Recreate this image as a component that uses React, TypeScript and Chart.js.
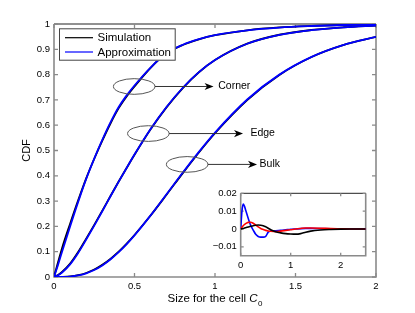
import React, { useEffect, useRef } from 'react';
import { Chart, registerables } from 'chart.js';

Chart.register(...registerables);

// ---------- data ----------
const sizeX = [0, 0.025, 0.05, 0.1, 0.15, 0.2, 0.25, 0.3, 0.35, 0.4, 0.45, 0.5, 0.6, 0.7, 0.8, 0.9, 1.0, 1.2, 1.4, 1.6, 1.8, 2.0];
const cornerApprox = [0, 0.048, 0.1, 0.2, 0.297, 0.388, 0.468, 0.542, 0.61, 0.67, 0.717, 0.757, 0.828, 0.885, 0.918, 0.94, 0.956, 0.975, 0.986, 0.992, 0.996, 0.998];
const cornerSim = [0, 0.058, 0.114, 0.2105, 0.303, 0.39, 0.4674, 0.539, 0.6058, 0.6654, 0.7124, 0.7528, 0.8268, 0.884, 0.9171, 0.9394, 0.9557, 0.9752, 0.9863, 0.9922, 0.9961, 0.998];
const edgeApprox = [0, 0.007, 0.018, 0.05, 0.095, 0.148, 0.203, 0.26, 0.318, 0.375, 0.43, 0.484, 0.585, 0.673, 0.748, 0.81, 0.858, 0.922, 0.957, 0.976, 0.987, 0.994];
const edgeSim = [0, 0.008, 0.0198, 0.053, 0.0987, 0.1518, 0.2062, 0.2622, 0.3192, 0.3753, 0.4297, 0.4832, 0.5837, 0.6715, 0.7468, 0.8092, 0.8576, 0.9223, 0.9575, 0.9764, 0.9872, 0.9941];
const bulkApprox = [0, 0, 0.0002, 0.0017, 0.006, 0.0144, 0.0276, 0.0459, 0.0692, 0.0971, 0.1292, 0.1648, 0.2435, 0.3278, 0.4128, 0.4948, 0.571, 0.7017, 0.7999, 0.8701, 0.9176, 0.9494];
const bulkSim = [0, 0.0001, 0.0005, 0.0024, 0.0071, 0.0159, 0.0294, 0.048, 0.0714, 0.0992, 0.131, 0.166, 0.2431, 0.3262, 0.4106, 0.4922, 0.5682, 0.6991, 0.7987, 0.8695, 0.9173, 0.9493];

const xTicks = [0, 0.5, 1, 1.5, 2];
const yTicks = [0, 0.1, 0.2, 0.3, 0.4, 0.5, 0.6, 0.7, 0.8, 0.9, 1];

const insetX = [0, 0.025, 0.05, 0.075, 0.1, 0.15, 0.2, 0.25, 0.3, 0.35, 0.4, 0.45, 0.5, 0.55, 0.6, 0.7, 0.8, 0.9, 1.0, 1.1, 1.2, 1.3, 1.4, 1.6, 1.8, 2.0, 2.2, 2.5];
const errCorner = [0, 0.01, 0.014, 0.0128, 0.0105, 0.006, 0.002, -0.0006, -0.003, -0.0042, -0.0046, -0.0046, -0.0042, -0.0018, -0.0012, -0.001, -0.0008, -0.0005, -0.0002, 0, 0.0002, 0.0003, 0.0003, 0.0002, 0.0001, 0, 0, 0];
const errEdge = [0, 0.001, 0.0018, 0.0025, 0.003, 0.0037, 0.0038, 0.0032, 0.0022, 0.0012, 0.0003, -0.0003, -0.0008, -0.0011, -0.0013, -0.0015, -0.0012, -0.0008, -0.0004, 0, 0.0003, 0.0005, 0.0005, 0.0004, 0.0002, 0.0001, 0, 0];
const errBulk = [0, 0.0001, 0.0003, 0.0005, 0.0007, 0.0011, 0.0015, 0.0018, 0.0021, 0.0022, 0.0021, 0.0018, 0.0012, 0.0004, -0.0004, -0.0016, -0.0022, -0.0026, -0.0028, -0.0029, -0.0026, -0.0018, -0.0012, -0.0006, -0.0003, -0.0001, 0, 0];
const insetXTicks = [0, 1, 2];
const insetYTicks = [-0.01, 0, 0.01, 0.02];

const legendLabels = ['Simulation', 'Approximation'];
const xTitle = 'Size for the cell ';
const xTitleVar = 'C';
const xTitleSub = '0';
const yTitle = 'CDF';

// annotation layout (data coordinates)
const annotations = [
  { label: 'Corner', cx: 0.498, cy: 0.753, tip: 0.991, text: 1.02 },
  { label: 'Edge', cx: 0.586, cy: 0.567, tip: 1.174, text: 1.22 },
  { label: 'Bulk', cx: 0.827, cy: 0.445, tip: 1.261, text: 1.277 },
];

const FONT = '"Liberation Sans", Arial, Helvetica, sans-serif';
const BLUE = '#0000ff';

const pts = (xs: number[], ys: number[]) => xs.map((x, i) => ({ x, y: ys[i] }));
const fmt = (v: any) => String(Number(v)).replace('-', '\u2212');

function drawFrame(chart: any, xt: number[], yt: number[], len: number) {
  const { ctx, chartArea, scales } = chart;
  const { left, right, top, bottom } = chartArea;
  ctx.save();
  ctx.strokeStyle = '#8a8a8a';
  ctx.lineWidth = 1.6;
  ctx.beginPath();
  ctx.moveTo(left, top);
  ctx.lineTo(left, bottom);
  ctx.lineTo(right, bottom);
  ctx.lineTo(right, top);
  ctx.stroke();
  ctx.strokeStyle = '#222';
  ctx.lineWidth = 1;
  ctx.beginPath();
  ctx.moveTo(left, top);
  ctx.lineTo(right, top);
  ctx.stroke();
  ctx.strokeStyle = '#8a8a8a';
  ctx.lineWidth = 1.3;
  ctx.beginPath();
  for (const v of xt) {
    const p = scales.x.getPixelForValue(v);
    ctx.moveTo(p, bottom); ctx.lineTo(p, bottom - len);
    ctx.moveTo(p, top); ctx.lineTo(p, top + len);
  }
  for (const v of yt) {
    const p = scales.y.getPixelForValue(v);
    ctx.moveTo(left, p); ctx.lineTo(left + len, p);
    ctx.moveTo(right, p); ctx.lineTo(right - len, p);
  }
  ctx.stroke();
  ctx.restore();
}

const mainPlugin = {
  id: 'mainDecor',
  beforeDatasetsDraw(chart: any) {
    drawFrame(chart, xTicks, yTicks, 4);
  },
  afterDraw(chart: any) {
    const { ctx, chartArea, scales } = chart;
    const xs = scales.x, ys = scales.y;
    ctx.save();
    // annotations: ellipses, arrows, labels
    const rxPx = xs.getPixelForValue(0.129) - xs.getPixelForValue(0);
    const ryPx = ys.getPixelForValue(0) - ys.getPixelForValue(0.031);
    for (const a of annotations) {
      const cx = xs.getPixelForValue(a.cx);
      const cy = ys.getPixelForValue(a.cy);
      ctx.strokeStyle = '#555';
      ctx.lineWidth = 1;
      ctx.beginPath();
      ctx.ellipse(cx, cy, rxPx, ryPx, 0, 0, Math.PI * 2);
      ctx.stroke();
      const x1 = xs.getPixelForValue(a.tip);
      ctx.strokeStyle = '#333';
      ctx.beginPath();
      ctx.moveTo(cx + rxPx, cy);
      ctx.lineTo(x1 - 6, cy);
      ctx.stroke();
      ctx.fillStyle = '#000';
      ctx.beginPath();
      ctx.moveTo(x1, cy);
      ctx.lineTo(x1 - 9, cy - 3.6);
      ctx.lineTo(x1 - 6.5, cy);
      ctx.lineTo(x1 - 9, cy + 3.6);
      ctx.closePath();
      ctx.fill();
      ctx.font = `10.5px ${FONT}`;
      ctx.textBaseline = 'middle';
      ctx.textAlign = 'left';
      ctx.fillText(a.label, xs.getPixelForValue(a.text), cy);
    }
    // legend
    const lx = chartArea.left + 5, ly = chartArea.top + 4.3;
    const lw = 116.7, lh = 32.4;
    ctx.fillStyle = '#fff';
    ctx.fillRect(lx, ly, lw, lh);
    ctx.strokeStyle = '#444';
    ctx.lineWidth = 1;
    ctx.strokeRect(lx + 0.5, ly + 0.5, lw - 1, lh - 1);
    const colors = ['#000', BLUE];
    legendLabels.forEach((lab, i) => {
      const yy = ly + 9.4 + i * 14.3;
      ctx.strokeStyle = colors[i];
      ctx.lineWidth = 1.2;
      ctx.beginPath();
      ctx.moveTo(lx + 6, yy);
      ctx.lineTo(lx + 34, yy);
      ctx.stroke();
      ctx.fillStyle = '#000';
      ctx.font = `11.5px ${FONT}`;
      ctx.textBaseline = 'middle';
      ctx.textAlign = 'left';
      ctx.fillText(lab, lx + 38.5, yy + 0.5);
    });
    // x title with italic C and subscript 0
    ctx.fillStyle = '#000';
    ctx.textBaseline = 'alphabetic';
    ctx.textAlign = 'left';
    ctx.font = `11.5px ${FONT}`;
    const w1 = ctx.measureText(xTitle).width;
    ctx.font = `italic 11.5px ${FONT}`;
    const w2 = ctx.measureText(xTitleVar).width;
    ctx.font = `8px ${FONT}`;
    const w3 = ctx.measureText(xTitleSub).width;
    const cxT = (chartArea.left + chartArea.right) / 2;
    let sx = cxT - (w1 + w2 + w3 + 0.5) / 2;
    const by = 302.3;
    ctx.font = `11.5px ${FONT}`;
    ctx.fillText(xTitle, sx, by);
    sx += w1;
    ctx.font = `italic 11.5px ${FONT}`;
    ctx.fillText(xTitleVar, sx, by);
    sx += w2 + 0.5;
    ctx.font = `8px ${FONT}`;
    ctx.fillText(xTitleSub, sx, by + 3.5);
    // y title
    ctx.save();
    ctx.translate(26.8, (chartArea.top + chartArea.bottom) / 2);
    ctx.rotate(-Math.PI / 2);
    ctx.font = `11px ${FONT}`;
    ctx.textAlign = 'center';
    ctx.textBaseline = 'middle';
    ctx.fillText(yTitle, 0, 0);
    ctx.restore();
    ctx.restore();
  },
};

const insetPlugin = {
  id: 'insetDecor',
  beforeDatasetsDraw(chart: any) {
    const { ctx, chartArea } = chart;
    ctx.save();
    ctx.fillStyle = '#fff';
    ctx.fillRect(chartArea.left, chartArea.top, chartArea.right - chartArea.left, chartArea.bottom - chartArea.top);
    ctx.restore();
    drawFrame(chart, insetXTicks, insetYTicks, 3);
  },
};

const lineDs = (label: string, data: any, color: string, width: number, order: number) => ({
  label,
  data,
  borderColor: color,
  backgroundColor: color,
  borderWidth: width,
  pointRadius: 0,
  fill: false,
  cubicInterpolationMode: 'monotone' as const,
  order,
});

export default function App() {
  const mainRef = useRef<HTMLCanvasElement>(null);
  const insetRef = useRef<HTMLCanvasElement>(null);

  useEffect(() => {
    document.body.style.margin = '0';
    const main = new Chart(mainRef.current!, {
      type: 'line',
      data: {
        datasets: [
          lineDs('Corner approx', pts(sizeX, cornerApprox), BLUE, 1.8, 0),
          lineDs('Edge approx', pts(sizeX, edgeApprox), BLUE, 1.8, 0),
          lineDs('Bulk approx', pts(sizeX, bulkApprox), BLUE, 1.8, 0),
          lineDs('Corner sim', pts(sizeX, cornerSim), '#000', 1.8, 1),
          lineDs('Edge sim', pts(sizeX, edgeSim), '#000', 1.8, 1),
          lineDs('Bulk sim', pts(sizeX, bulkSim), '#000', 1.8, 1),
        ],
      },
      options: {
        animation: false,
        responsive: false,
        events: [],
        layout: { padding: { left: 0, top: 24, right: 39, bottom: 0 } },
        plugins: { legend: { display: false }, tooltip: { enabled: false } },
        scales: {
          x: {
            type: 'linear',
            min: 0,
            max: 2,
            grid: { display: false, drawTicks: false },
            border: { display: false },
            afterBuildTicks: (s: any) => { s.ticks = xTicks.map((v) => ({ value: v })); },
            afterFit: (s: any) => { s.height = 36; },
            ticks: { padding: 4, color: '#000', font: { size: 9.5, family: FONT }, maxRotation: 0, callback: fmt },
          },
          y: {
            type: 'linear',
            min: 0,
            max: 1,
            grid: { display: false, drawTicks: false },
            border: { display: false },
            afterBuildTicks: (s: any) => { s.ticks = yTicks.map((v) => ({ value: v })); },
            afterFit: (s: any) => { s.width = 54; },
            ticks: { padding: 4, color: '#000', font: { size: 9.5, family: FONT }, callback: fmt },
          },
        },
      },
      plugins: [mainPlugin],
    });

    const inset = new Chart(insetRef.current!, {
      type: 'line',
      data: {
        datasets: [
          lineDs('Bulk err', pts(insetX, errBulk), '#000', 1.6, 0),
          lineDs('Edge err', pts(insetX, errEdge), '#ff0000', 1.6, 1),
          lineDs('Corner err', pts(insetX, errCorner), BLUE, 1.6, 2),
        ],
      },
      options: {
        animation: false,
        responsive: false,
        events: [],
        layout: { padding: { left: 0, top: 13.3, right: 9.3, bottom: 0 } },
        plugins: { legend: { display: false }, tooltip: { enabled: false } },
        scales: {
          x: {
            type: 'linear',
            min: 0,
            max: 2.5,
            grid: { display: false, drawTicks: false },
            border: { display: false },
            afterBuildTicks: (s: any) => { s.ticks = insetXTicks.map((v) => ({ value: v })); },
            afterFit: (s: any) => { s.height = 19.3; },
            ticks: { padding: 3.5, color: '#000', font: { size: 9.5, family: FONT }, maxRotation: 0, callback: fmt },
          },
          y: {
            type: 'linear',
            min: -0.015,
            max: 0.02,
            grid: { display: false, drawTicks: false },
            border: { display: false },
            afterBuildTicks: (s: any) => { s.ticks = insetYTicks.map((v) => ({ value: v })); },
            afterFit: (s: any) => { s.width = 40.7; },
            ticks: { padding: 4, color: '#000', font: { size: 9.5, family: FONT }, callback: fmt },
          },
        },
      },
      plugins: [insetPlugin],
    });

    return () => {
      main.destroy();
      inset.destroy();
    };
  }, []);

  return (
    <div style={{ position: 'fixed', left: 0, top: 0, width: 415, height: 313, background: '#fff' }}>
      <canvas ref={mainRef} width={415} height={313} style={{ position: 'absolute', left: 0, top: 0 }} />
      <canvas ref={insetRef} width={175} height={95} style={{ position: 'absolute', left: 200, top: 180 }} />
    </div>
  );
}
